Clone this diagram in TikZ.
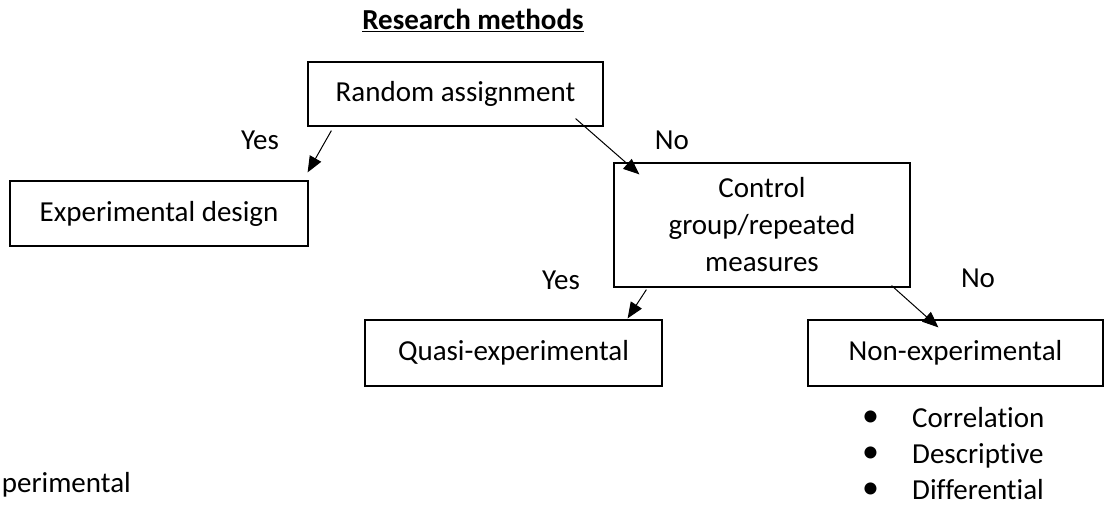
\documentclass[tikz,border=0pt]{standalone}
\usepackage{fontspec}
\setmainfont[Ligatures=NoCommon]{Carlito}
\usetikzlibrary{arrows.meta,calc}
\tikzset{
  box/.style={draw, line width=1.2pt, inner sep=0pt, align=center},
  lbl/.style={inner sep=0pt, anchor=base},
  item/.style={inner sep=0pt, anchor=base west},
  conn/.style={line width=1pt, -{Triangle[length=16pt,width=13pt]}},
}
\newcommand{\bul}{\makebox[50pt][l]{\raisebox{1pt}{\fontsize{34}{37}\selectfont •}}}
\begin{document}
\begin{tikzpicture}[x=1pt,y=-1pt,font=\fontsize{29}{37}\selectfont]
\useasboundingbox (0,0) rectangle (1104,506);
\node[lbl] (title) at (473,30) {\textbf{\underline{Research methods}}};
\node[box, minimum width=295pt, minimum height=64pt] (ra) at (455.5,94) {Random assignment};
\node[box, minimum width=298pt, minimum height=65pt] (ed) at (159,213.5) {Experimental design};
\node[box, minimum width=296pt, minimum height=124pt] (cg) at (762,225) {Control\\group/repeated\\measures};
\node[box, minimum width=297pt, minimum height=66pt] (qe) at (513.5,353) {Quasi-experimental};
\node[box, minimum width=295pt, minimum height=66pt] (ne) at (955.5,353) {Non-experimental};
\node[lbl] (yes1) at (260,149) {Yes};
\node[lbl] (no1) at (672,149) {No};
\node[lbl] (yes2) at (561,289) {Yes};
\node[lbl] (no2) at (978,287) {No};
\draw[conn] ($(ra.south west)+(24,4)$) -- ($(ed.north east)+(-1,-8)$);
\draw[conn] ($(ra.south east)+(-28,-8)$) -- ($(cg.north west)+(26,12)$);
\draw[conn] ($(cg.south west)+(33,2)$) -- ($(qe.north east)+(-35,-1)$);
\draw[conn] ($(cg.south east)+(-19,-2)$) -- ($(ne.north west)+(131,8)$);
\node[item] (l1) at (862,427) {\bul Correlation};
\node[item] (l2) at (862,463) {\bul Descriptive};
\node[item] (l3) at (862,499) {\bul Differential};
\node[lbl, anchor=base east] (cut) at (131,492) {perimental};
\end{tikzpicture}
\end{document}
